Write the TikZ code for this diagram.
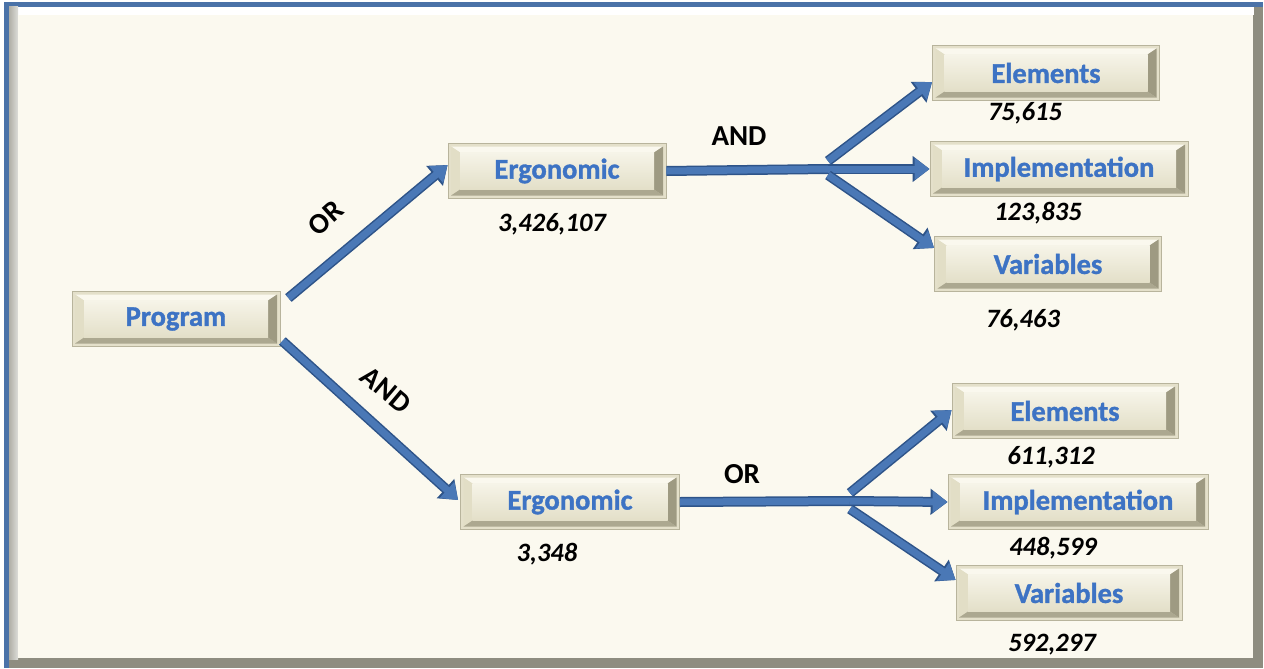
\documentclass[tikz,border=0pt]{standalone}
\usepackage{fontspec}
\setmainfont{Carlito}
\newfontfamily\heavyfont{Carlito}[BoldFeatures={FakeBold=1.2}]
\usetikzlibrary{arrows.meta,calc}
\definecolor{bg}{HTML}{FBF9EF}
\definecolor{frameblue}{HTML}{4A72A8}
\definecolor{framegray}{HTML}{8E8D80}
\definecolor{rim}{HTML}{E4E0CA}
\definecolor{rimdark}{HTML}{B8B49C}
\definecolor{bevlight}{HTML}{FAF8EE}
\definecolor{bevmid}{HTML}{E2DEC6}
\definecolor{bevdark}{HTML}{9E9A82}
\definecolor{facetop}{HTML}{F6F4E8}
\definecolor{facebot}{HTML}{E3DFC8}
\definecolor{txtblue}{HTML}{3D73C4}
\definecolor{arrowblue}{HTML}{4A78B6}
\definecolor{arrowdark}{HTML}{2E5489}
\tikzset{
  bevbox/.style={rectangle, inner sep=0pt, minimum height=55pt,
    fill=rim, draw=rimdark, line width=0.8pt,
    font=\heavyfont\bfseries\fontsize{28.5}{30}\selectfont, text=txtblue,
    path picture={
      \path (path picture bounding box.north west) coordinate (pA)
            (path picture bounding box.south east) coordinate (pB);
      \coordinate (pAo) at ($(pA)+(3pt,-3pt)$);
      \coordinate (pBo) at ($(pB)+(-3pt,3pt)$);
      \coordinate (pAi) at ($(pA)+(12pt,-9pt)$);
      \coordinate (pBi) at ($(pB)+(-12pt,9pt)$);
      \fill[bevlight] (pAo) -- (pAo -| pBo) -- (pAi -| pBi) -- (pAi) -- cycle;
      \fill[bevmid] (pAo) -- (pAi) -- (pAi |- pBi) -- (pAo |- pBo) -- cycle;
      \fill[bevdark!80!rim] (pAo |- pBo) -- (pBo) -- (pBi) -- (pAi |- pBi) -- cycle;
      \fill[bevdark] (pAo -| pBo) -- (pBo) -- (pBi) -- (pAi -| pBi) -- cycle;
      \shade[top color=facetop, bottom color=facebot] (pAi) rectangle (pBi);
    }},
  numlab/.style={font=\bfseries\itshape\fontsize{26.5}{28}\selectfont, text=black},
  oplab/.style={font=\bfseries\fontsize{29}{31}\selectfont, text=black},
  conn/.style={draw=arrowblue, line width=7pt,
    preaction={draw=arrowdark, line width=10pt}},
  arr/.style={draw=arrowblue, line width=7pt, -{Triangle[length=15pt,width=21pt]},
    preaction={draw=arrowdark, line width=10pt, -{Triangle[length=17pt,width=25pt]}}},
}
\begin{document}
\begin{tikzpicture}[x=1pt,y=-1pt]
\useasboundingbox (0,0) rectangle (1264,669);
% frame
\fill[white] (0,0) rectangle (1264,669);
\fill[frameblue] (4,2) rectangle (1263,668);
\fill[framegray] (9,7) rectangle (1263,668);
\fill[white] (9,7) rectangle (1254,15);
\fill[left color=framegray!70, right color=framegray!30] (9,7) rectangle (18,659);
\fill[bg] (18,15) rectangle (1253,658);

% nodes
\node[bevbox, minimum width=208pt] (prog) at (176,319) {Program};
\node[bevbox, minimum width=218pt] (ergA) at (557,171) {Ergonomic};
\node[bevbox, minimum width=219pt] (ergB) at (570,502) {Ergonomic};
\node[bevbox, minimum width=227pt] (elA) at (1046,73) {Elements};
\node[bevbox, minimum width=258pt] (imA) at (1059,169) {Implementation};
\node[bevbox, minimum width=227pt] (vaA) at (1048,264) {Variables};
\node[bevbox, minimum width=226pt] (elB) at (1065,411) {Elements};
\node[bevbox, minimum width=260pt] (imB) at (1078,502) {Implementation};
\node[bevbox, minimum width=226pt] (vaB) at (1069,593) {Variables};

% numbers
\node[numlab] (nElA) at (1025,113) {75,615};
\node[numlab] (nImA) at (1038,213) {123,835};
\node[numlab] (nVaA) at (1023,320) {76,463};
\node[numlab] (nErgA) at (552,224) {3,426,107};
\node[numlab] (nErgB) at (547,554) {3,348};
\node[numlab] (nElB) at (1051,457) {611,312};
\node[numlab] (nImB) at (1053,548) {448,599};
\node[numlab] (nVaB) at (1052,645) {592,297};

% operator labels
\node[oplab, rotate=42] (or1) at (326,218) {OR};
\node[oplab, rotate=-40] (and1) at (386,390) {AND};
\node[oplab] (and2) at (739,136) {AND};
\node[oplab] (or2) at (742,474) {OR};

% connectors
\coordinate (forkA) at (828,169);
\coordinate (forkB) at (850,501);
\draw[arr] ([xshift=8pt,yshift=21pt]prog.east) -- ([yshift=6pt]ergA.west);
\draw[arr] ([xshift=2pt,yshift=-22pt]prog.east) -- ([xshift=-2pt,yshift=2pt]ergB.west);
\draw[conn] (ergA.east) -- (forkA);
\draw[conn] (ergB.east) -- (forkB);
\draw[arr] ([yshift=8pt]forkA) -- ([yshift=-9pt]elA.west);
\draw[arr] (forkA) -- (imA.west);
\draw[arr] ([yshift=-6pt]forkA) -- ([yshift=16pt]vaA.west);
\draw[arr] ([yshift=8pt]forkB) -- ([yshift=1pt]elB.west);
\draw[arr] (forkB) -- (imB.west);
\draw[arr] ([yshift=-8pt]forkB) -- ([yshift=13pt]vaB.west);
\end{tikzpicture}
\end{document}
